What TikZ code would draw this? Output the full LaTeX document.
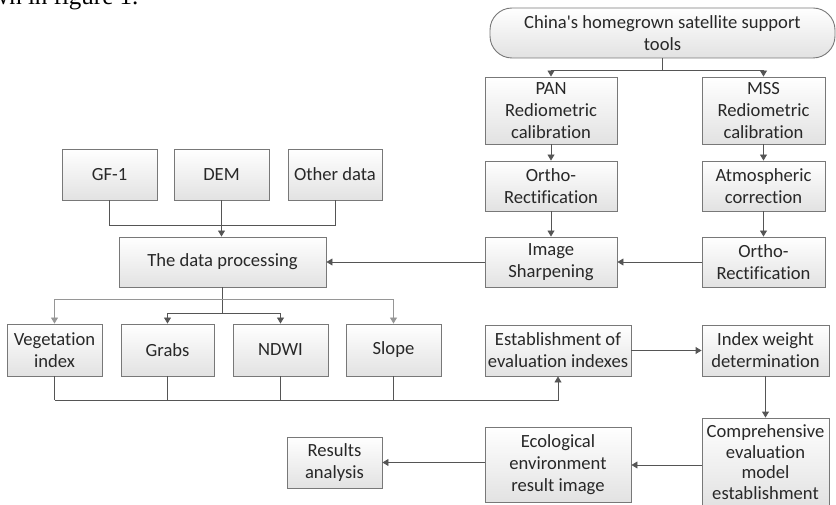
\documentclass[tikz,border=0pt]{standalone}
\usepackage{fontspec}
\usepackage{tikz}
\usepackage{xcolor}
\usetikzlibrary{arrows.meta}
\setmainfont{Liberation Serif}
\newfontfamily\calib[Ligatures=NoCommon]{Carlito}
\definecolor{boxline}{RGB}{120,120,120}
\definecolor{boxfill}{RGB}{226,226,226}
\definecolor{linkgray}{RGB}{85,85,85}
\definecolor{linklight}{RGB}{150,150,150}
\definecolor{textgray}{RGB}{40,40,40}

\begin{document}
\begin{tikzpicture}[x=1pt,y=1pt,yscale=-1,xscale=1,
  box/.style={draw=boxline, line width=0.9pt, top color=white, bottom color=boxfill,
    text=textgray, inner sep=0pt, align=center, font=\calib\fontsize{18.6}{22}\selectfont},
  link/.style={draw=linkgray, line width=0.9pt},
  arr/.style={link, -{Triangle[length=6pt,width=7pt]}}]
\useasboundingbox (0,0) rectangle (836,505);

% Text Node (cut-off line of the page above the figure)
\node [anchor=base west, inner sep=0pt, font=\fontsize{25}{28}\selectfont] (cap) at (-9,5) {wn in figure 1.};

%Boxes, right column
\node [box, rounded corners=22pt, minimum width=345pt, minimum height=50pt] (sat) at (662.5,33) {China's homegrown satellite support\\tools};
\node [box, minimum width=132pt, minimum height=67pt] (pan) at (551,110.5) {PAN\\Rediometric\\calibration};
\node [box, minimum width=123pt, minimum height=67pt] (mss) at (763.5,110.5) {MSS\\Rediometric\\calibration};
\node [box, minimum width=132pt, minimum height=50pt] (orthop) at (551,186) {Ortho-\\Rectification};
\node [box, minimum width=123pt, minimum height=50pt] (atmo) at (763.5,186) {Atmospheric\\correction};
\node [box, minimum width=132pt, minimum height=50pt] (sharp) at (551,262) {Image\\Sharpening};
\node [box, minimum width=123pt, minimum height=50pt] (orthom) at (763.5,262) {Ortho-\\Rectification};

%Boxes, input data
\node [box, minimum width=95pt, minimum height=51pt] (gf) at (109.5,174.5) {GF-1};
\node [box, minimum width=95pt, minimum height=51pt] (dem) at (221.5,174.5) {DEM};
\node [box, minimum width=94pt, minimum height=51pt] (other) at (335,174.5) {Other data};
\node [box, minimum width=207pt, minimum height=50pt] (proc) at (222.5,262) {The data processing};

%Boxes, factors
\node [box, minimum width=95pt, minimum height=52pt] (veg) at (54.5,350) {Vegetation\\index};
\node [box, minimum width=93pt, minimum height=52pt] (grabs) at (167.5,350) {Grabs};
\node [box, minimum width=95pt, minimum height=52pt] (ndwi) at (280.5,350) {NDWI};
\node [box, minimum width=95pt, minimum height=52pt] (slope) at (393.5,350) {Slope};

%Boxes, evaluation
\node [box, minimum width=146pt, minimum height=51pt] (estab) at (558,350.5) {Establishment of\\evaluation indexes};
\node [box, minimum width=127pt, minimum height=51pt] (weight) at (765.5,350.5) {Index weight\\determination};
\node [box, minimum width=127pt, minimum height=88pt, font=\calib\fontsize{18.6}{20.5}\selectfont] (compr) at (765.5,462) {Comprehensive\\evaluation\\model\\establishment};
\node [box, minimum width=146pt, minimum height=75pt] (eco) at (558,465) {Ecological\\environment\\result image};
\node [box, minimum width=95pt, minimum height=51pt] (res) at (334.5,462.5) {Results\\analysis};

%Straight Lines, satellite branch
\draw [link] (sat.south) -- ++(0,12) coordinate (satsplit);
\draw [arr] (satsplit) -| (pan.north);
\draw [arr] (satsplit) -| (mss.north);
\draw [arr] (pan) -- (orthop);
\draw [arr] (orthop) -- (sharp);
\draw [arr] (mss) -- (atmo);
\draw [arr] (atmo) -- (orthom);
\draw [arr] (orthom) -- (sharp);
\draw [arr] (sharp) -- (proc);

%Straight Lines, input data
\draw [link] (gf.south) -- ++(0,25) -| (other.south);
\draw [arr] (dem.south) -- (dem.south |- proc.north);

%Straight Lines, factors
\draw [link] (proc.south) -- ++(0,26) coordinate (procsplit);
\draw [arr] (procsplit) -| (grabs.north);
\draw [arr] (procsplit) -| (ndwi.north);
\draw [link] (proc.south) ++(0,12) coordinate (procouter);
\draw [arr, draw=linklight] (procouter) -| (veg.north);
\draw [arr, draw=linklight] (procouter) -| (slope.north);

%Straight Lines, merge to evaluation
\draw [link] (veg.south) -- ++(0,24) coordinate (factmerge);
\draw [arr] (factmerge) -| (estab.south);
\draw [link] (grabs.south) -- (grabs.south |- factmerge);
\draw [link] (ndwi.south) -- (ndwi.south |- factmerge);
\draw [link] (slope.south) -- (slope.south |- factmerge);

%Straight Lines, evaluation chain
\draw [arr] (estab) -- (weight);
\draw [arr] (weight) -- (compr);
\draw [arr] (compr.west |- eco.east) -- (eco.east);
\draw [arr] (eco.west |- res.east) -- (res.east);

\end{tikzpicture}
\end{document}
